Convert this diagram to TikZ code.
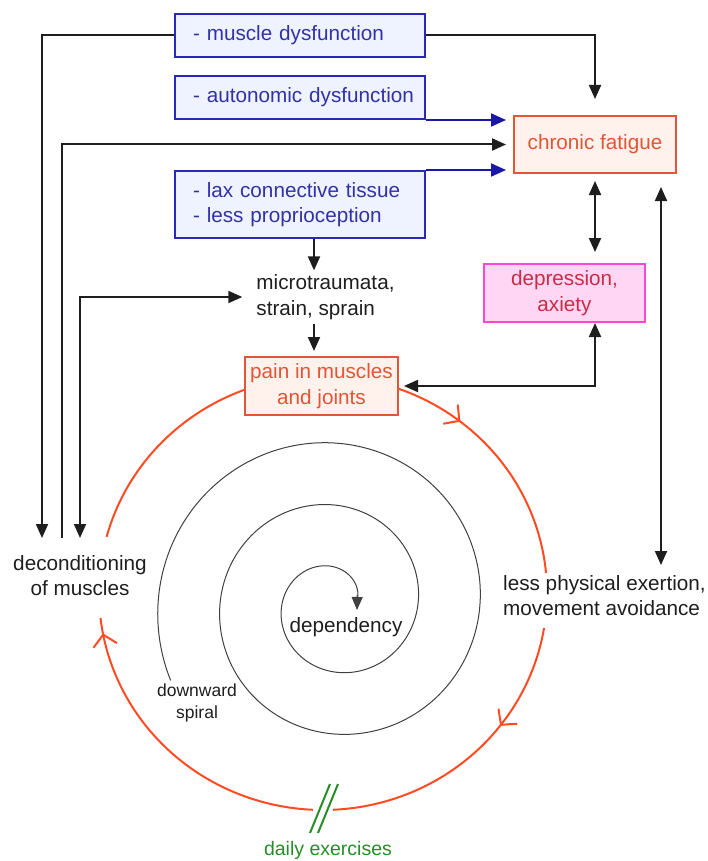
\documentclass[tikz,border=0pt]{standalone}
\usepackage{fontspec}
\setmainfont{Liberation Sans}
\usetikzlibrary{arrows.meta,decorations.markings}
\definecolor{causeblue}{RGB}{40,40,185}
\definecolor{causefill}{RGB}{238,243,255}
\definecolor{causetext}{RGB}{50,50,165}
\definecolor{linkblue}{RGB}{25,25,165}
\definecolor{fatred}{RGB}{228,85,55}
\definecolor{fatfill}{RGB}{255,241,236}
\definecolor{deppink}{RGB}{255,70,215}
\definecolor{depfill}{RGB}{255,214,244}
\definecolor{deptext}{RGB}{200,45,70}
\definecolor{loopred}{RGB}{255,75,35}
\definecolor{exgreen}{RGB}{40,140,40}
\definecolor{ink}{RGB}{30,30,30}

\begin{document}
\begin{tikzpicture}[x=1pt, y=-1pt,
  txt/.style={font=\fontsize{20.7}{25.5}\selectfont, text=ink, inner sep=4pt},
  cause/.style={txt, draw=causeblue, fill=causefill, text=causetext, line width=2pt,
    text width=236pt, inner xsep=7pt, align=left, minimum height=43pt,
    execute at begin node={\leftskip=11pt}},
  effect/.style={txt, line width=2pt, align=center, minimum height=57pt},
  arr/.style={draw=ink, line width=2pt, -{Triangle[length=14pt,width=12pt]}},
  dbl/.style={arr, {Triangle[length=14pt,width=12pt]}-{Triangle[length=14pt,width=12pt]}},
  barr/.style={draw=linkblue, line width=2pt, -{Triangle[length=15pt,width=13pt]}, shorten >=7pt},
  ring/.style={draw=loopred, line width=2pt},
  chev/.style={postaction={decorate, decoration={markings,
    mark=at position #1 with {\arrow{Straight Barb[length=11pt,width=24pt]}}}}},
  coil/.style={draw=ink!85, line width=1pt},
  strike/.style={draw=exgreen, line width=2pt}]
  \useasboundingbox (0,0) rectangle (707,861);
  \pgfmathsetmacro{\cx}{323}
  \pgfmathsetmacro{\cy}{593}
  \pgfmathsetmacro{\rx}{224}
  \pgfmathsetmacro{\ry}{217}
  \draw[ring, chev=0.29] plot[domain=-71:-5.3, samples=40, smooth] ({\cx+\rx*cos(\x)},{\cy+\ry*sin(\x)});
  \draw[ring, chev=0.36] plot[domain=9.3:87.4, samples=40, smooth] ({\cx+\rx*cos(\x)},{\cy+\ry*sin(\x)});
  \draw[ring, chev=0.95] plot[domain=92.6:173.4, samples=40, smooth] ({\cx+\rx*cos(\x)},{\cy+\ry*sin(\x)});
  \draw[ring] plot[domain=195:252, samples=30, smooth] ({\cx+\rx*cos(\x)},{\cy+\ry*sin(\x)});
  \draw[strike] (310,833) -- (330,784);
  \draw[strike] (318,833) -- (338,784);
  \draw[coil] plot[domain=155:1075, samples=400, smooth]
    ({334.5+(176.5-0.17222*(\x-180))*cos(\x)},{604+(176.5-0.17222*(\x-180))*sin(\x)});
  \draw[coil, -{Triangle[length=13pt,width=11pt]}] (357.2,595) -- (357,610);

  \node[cause] (mus) at (300,35.5) {- muscle dysfunction};
  \node[cause] (auto) at (300,97.5) {- autonomic dysfunction};
  \node[cause, minimum height=67pt] (lax) at (300,204.5) {- lax connective tissue\\- less proprioception};
  \node[effect, draw=fatred, fill=fatfill, text=fatred, minimum width=162pt] (fat) at (595,144.5) {chronic fatigue};
  \node[effect, draw=deppink, fill=depfill, text=deptext, minimum width=161pt, minimum height=58pt] (dep) at (564.5,293) {depression,\\axiety};
  \node[effect, draw=fatred, fill=fatfill, text=fatred, minimum width=153pt, minimum height=58pt] (pain) at (321.5,386) {pain in muscles\\and joints};
  \node[txt, align=left] (micro) at (325.5,297) {microtraumata,\\strain, sprain};
  \node[txt, align=center, anchor=north] (decon) at (80,551) {deconditioning\\of muscles};
  \node[txt, align=left, anchor=north west] (less) at (499,571) {less physical exertion,\\movement avoidance};
  \node[txt] (depend) at (346,627) {dependency};
  \node[txt, align=center, font=\fontsize{17.5}{21.5}\selectfont] (down) at (197,703) {downward\\spiral};
  \node[txt, text=exgreen, font=\fontsize{19.5}{24}\selectfont] (daily) at (328,850) {daily exercises};

  \draw[arr, shorten >=13pt] (mus.west) -| ([xshift=-38pt]decon.north);
  \draw[arr, shorten <=13pt, shorten >=7pt] ([xshift=-18pt]decon.north) |- (fat.west);
  \draw[dbl, shorten <=13pt, shorten >=10pt] (decon.north) |- (micro.west);
  \draw[arr, shorten >=16pt] (mus.east) -| (fat.north);
  \draw[barr] (auto.south east) -- (auto.south east -| fat.west);
  \draw[barr] (lax.north east) -- (lax.north east -| fat.west);
  \draw[arr] (lax.south -| 314,0) -- (micro.north -| 314,0);
  \draw[arr, shorten >=5pt] (micro.south -| 314,0) -- (pain.north -| 314,0);
  \draw[dbl, shorten <=7pt, shorten >=11pt] (fat.south) -- (fat.south |- dep.north);
  \draw[dbl, shorten >=5pt] (fat.south |- dep.south) |- (pain.east);
  \coordinate (fr) at ([xshift=-16pt]fat.south east);
  \draw[dbl, shorten <=13pt, shorten >=6pt] (fr) -- (fr |- less.north);
\end{tikzpicture}
\end{document}
